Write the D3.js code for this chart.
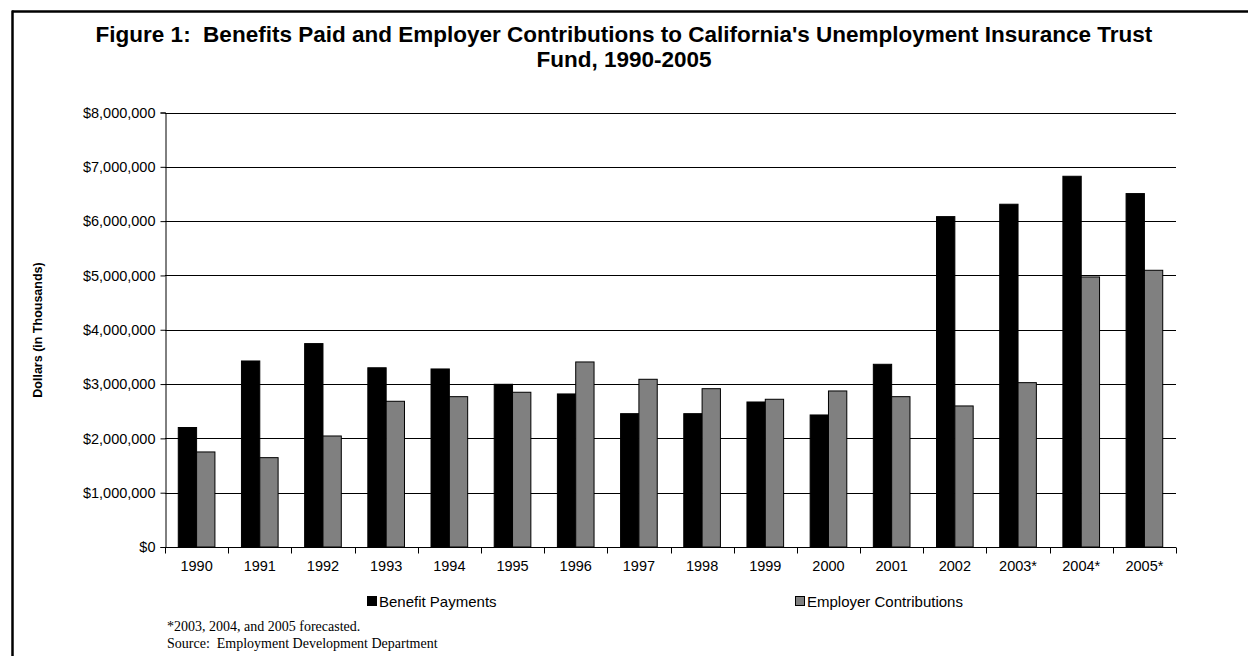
<!DOCTYPE html>
<html>
<head>
<meta charset="utf-8">
<script src="https://cdn.jsdelivr.net/npm/d3@7"></script>
<style>
  html, body { margin: 0; padding: 0; background: #fff; }
  svg { display: block; }
  text { font-family: "Liberation Sans", Arial, sans-serif; fill: #000; white-space: pre; }
  .serif { font-family: "Liberation Serif", "Times New Roman", serif; }
</style>
</head>
<body>
<svg id="chart" width="1248" height="656"></svg>
<script>
// Years shown on the category axis (asterisk marks forecast years)
const years = ["1990", "1991", "1992", "1993", "1994", "1995", "1996", "1997",
               "1998", "1999", "2000", "2001", "2002", "2003*", "2004*", "2005*"];

// Dollars in thousands
const benefitPayments = [2200000, 3425000, 3745000, 3300000, 3278000, 2996000, 2818000, 2455000,
                         2455000, 2670000, 2431000, 3364000, 6083000, 6311000, 6826000, 6507000];
const employerContributions = [1750000, 1645000, 2044000, 2683000, 2768000, 2849000, 3407000, 3088000,
                               2915000, 2720000, 2873000, 2768000, 2597000, 3026000, 4972000, 5095000];

const seriesNames = ["Benefit Payments", "Employer Contributions"];
const seriesColors = ["#000000", "#808080"];
const yTicks = [0, 1000000, 2000000, 3000000, 4000000, 5000000, 6000000, 7000000, 8000000];

const titleLines = [
  "Figure 1:  Benefits Paid and Employer Contributions to California's Unemployment Insurance Trust",
  "Fund, 1990-2005"
];
const footnotes = [
  "*2003, 2004, and 2005 forecasted.",
  "Source:  Employment Development Department"
];

const svg = d3.select("#chart");

// Outer frame (top and left edges visible in the page)
svg.append("line").attr("x1", 12).attr("x2", 1248).attr("y1", 11.5).attr("y2", 11.5)
  .attr("stroke", "#000").attr("stroke-width", 2.5);
svg.append("line").attr("x1", 12.5).attr("x2", 12.5).attr("y1", 10.5).attr("y2", 656)
  .attr("stroke", "#000").attr("stroke-width", 2.5);

// Title
svg.append("text")
  .attr("text-anchor", "middle")
  .style("font-weight", "bold").style("font-size", "22.5px")
  .selectAll("tspan").data(titleLines).join("tspan")
  .attr("x", 624).attr("y", (d, i) => 42 + i * 25)
  .text(d => d);

const plot = { left: 165, right: 1176, top: 112.5, bottom: 547 };

const x0 = d3.scaleBand().domain(years).range([plot.left, plot.right]).padding(0);
const bw = x0.bandwidth();
const x1 = d3.scaleBand().domain(seriesNames).range([bw * 0.21, bw * 0.79]).padding(0);
const y = d3.scaleLinear().domain([0, 8000000]).range([plot.bottom, plot.top]);

// Horizontal gridlines
svg.append("g").selectAll("line").data(yTicks.filter(d => d > 0)).join("line")
  .attr("x1", plot.left).attr("x2", plot.right)
  .attr("y1", d => Math.round(y(d)) + 0.5).attr("y2", d => Math.round(y(d)) + 0.5)
  .attr("stroke", "#000").attr("stroke-width", 1);

// Bars
const groups = svg.append("g").selectAll("g").data(years).join("g")
  .attr("transform", d => `translate(${x0(d)},0)`);

groups.selectAll("rect")
  .data((d, i) => [
    { s: seriesNames[0], v: benefitPayments[i], c: seriesColors[0] },
    { s: seriesNames[1], v: employerContributions[i], c: seriesColors[1] }
  ])
  .join("rect")
  .attr("x", d => x1(d.s))
  .attr("width", x1.bandwidth())
  .attr("y", d => y(d.v))
  .attr("height", d => y(0) - y(d.v))
  .attr("fill", d => d.c)
  .attr("stroke", "#000").attr("stroke-width", 1);

// Y axis
const yAxis = d3.axisLeft(y).tickValues(yTicks).tickSize(5).tickPadding(5)
  .tickFormat(d => "$" + d3.format(",")(d));
const gy = svg.append("g").attr("transform", `translate(${plot.left + 0.5},0)`).call(yAxis);
gy.select(".domain").attr("stroke", "#000");
gy.selectAll(".tick line").attr("stroke", "#000");
gy.selectAll(".tick text").style("font-size", "14.5px").attr("font-family", null);

// X axis: baseline with ticks at category boundaries
const gx = svg.append("g").attr("transform", `translate(0,${Math.round(plot.bottom) + 0.5})`);
gx.append("line").attr("x1", plot.left).attr("x2", plot.right).attr("stroke", "#000");
const boundaries = years.map(d => x0(d)).concat([plot.right]);
gx.selectAll("line.tk").data(boundaries).join("line").attr("class", "tk")
  .attr("x1", d => Math.round(d) + 0.5).attr("x2", d => Math.round(d) + 0.5)
  .attr("y1", 0).attr("y2", 6).attr("stroke", "#000");
gx.selectAll("text").data(years).join("text")
  .attr("x", d => x0(d) + bw / 2).attr("y", 23)
  .attr("text-anchor", "middle").style("font-size", "14.5px")
  .text(d => d);

// Y axis title
svg.append("text")
  .attr("transform", "translate(42,330) rotate(-90)")
  .attr("text-anchor", "middle")
  .style("font-weight", "bold").style("font-size", "12.5px")
  .text("Dollars (in Thousands)");

// Legend
const legendX = [367, 795];
const legend = svg.append("g").selectAll("g").data(seriesNames).join("g")
  .attr("transform", (d, i) => `translate(${legendX[i]},596)`);
legend.append("rect").attr("x", 0.5).attr("y", 0.5).attr("width", 9).attr("height", 9)
  .attr("fill", (d, i) => seriesColors[i]).attr("stroke", "#000");
legend.append("text").attr("x", 12).attr("y", 10.5).style("font-size", "15px").text(d => d);

// Footnotes
svg.append("g").selectAll("text").data(footnotes).join("text")
  .attr("class", "serif")
  .attr("x", 167).attr("y", (d, i) => 631 + i * 17)
  .style("font-size", "14px")
  .text(d => d);
</script>
</body>
</html>
